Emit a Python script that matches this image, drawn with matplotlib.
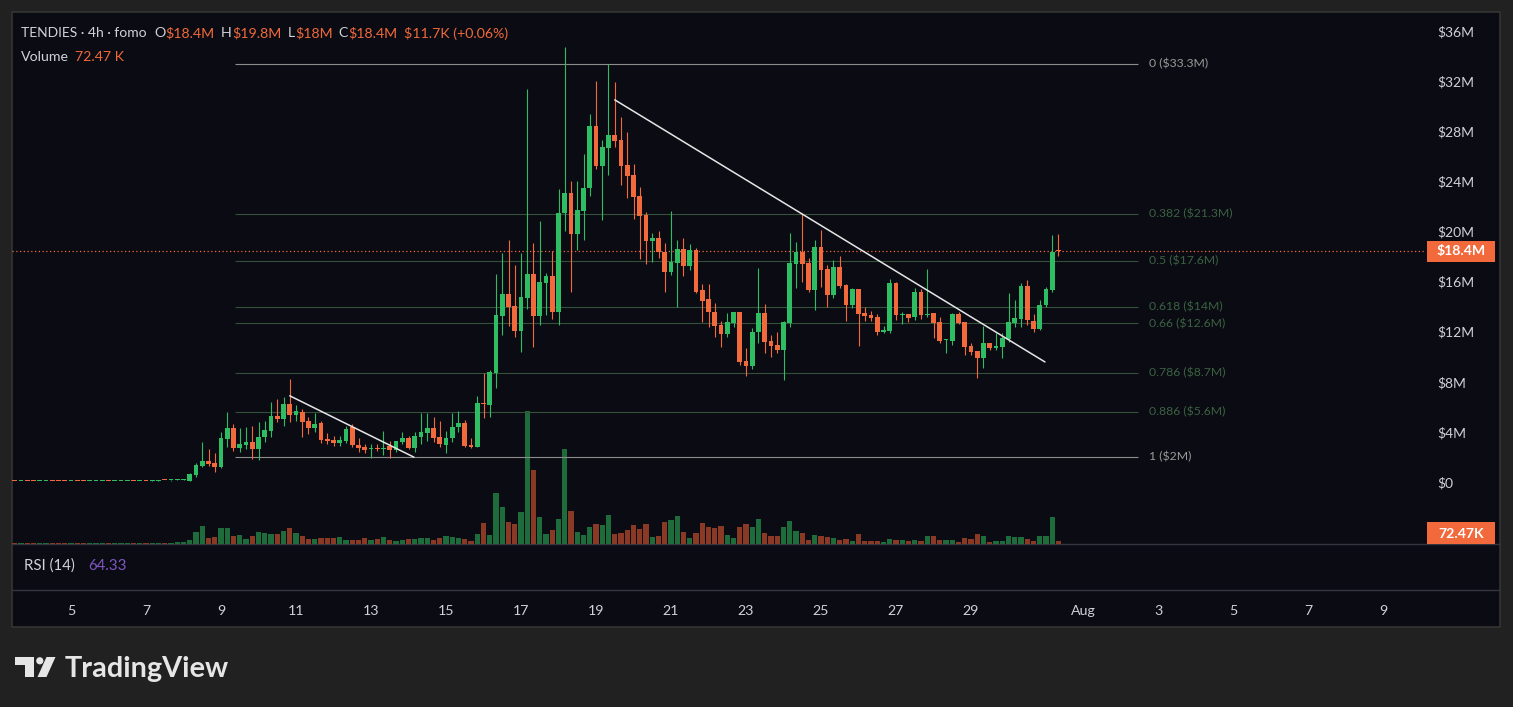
import matplotlib
matplotlib.use("Agg")
import matplotlib.pyplot as plt
import matplotlib.dates as mdates
import matplotlib.transforms as mtransforms
from matplotlib.patches import Rectangle, Polygon, Circle
import numpy as np
import pandas as pd

plt.rcParams['font.family'] = ['Lato', 'DejaVu Sans']

# ---------------- data ----------------
symbol_title = "TENDIES · 4h · fomo"
first_bar = "2024-07-03 12:00"
bar_freq = "4h"

# OHLC in $M (4h candles)
opens = [0.09, 0.06, 0.09, 0.09, 0.06, 0.06, 0.09, 0.09, 0.09, 0.06,
         0.09, 0.09, 0.06, 0.06, 0.06, 0.09, 0.06, 0.06, 0.06, 0.09,
         0.06, 0.09, 0.06, 0.10, 0.15, 0.12, 0.14, 0.17,
         0.10, 0.55, 1.30, 1.70, 1.50, 1.20, 3.40, 4.33, 2.74, 2.98,
         3.22, 2.63, 3.57, 4.07, 5.24, 5.03, 6.22, 5.35, 5.61, 4.89,
         4.33, 4.68, 3.43, 3.35, 3.09, 3.30, 4.37, 2.95, 2.77, 2.60,
         2.65, 2.60, 2.87, 2.55, 3.22, 3.49, 2.74, 3.62, 3.94, 4.31,
         3.62, 2.95, 3.49, 4.37, 4.73, 2.95, 2.82, 6.33, 6.15, 8.72,
         13.25, 15.00, 14.05, 12.08, 14.66, 16.60, 13.25, 15.90, 16.44, 13.59,
         21.45, 23.04, 19.80, 21.65, 23.44, 28.40, 25.24, 26.68, 27.70, 27.30,
         25.30, 24.50, 22.80, 21.30, 19.26, 19.50, 18.38, 16.78, 17.50, 18.57,
         17.26, 18.52, 15.30, 14.58, 13.54, 12.53, 11.81, 12.72, 13.54, 9.68,
         9.28, 11.95, 13.46, 11.25, 10.93, 10.56, 12.66, 17.40, 18.38, 17.45,
         15.32, 18.78, 17.00, 14.92, 17.18, 15.72, 14.13, 15.38, 13.50, 13.30,
         13.14, 12.00, 12.05, 15.90, 13.33, 13.38, 13.14, 15.19, 13.33, 13.46,
         12.80, 11.30, 11.28, 13.41, 12.74, 10.85, 10.45, 9.92, 11.07, 10.72,
         10.80, 11.41, 12.66, 13.01, 15.67, 12.85, 12.18, 14.10, 15.32, 18.41]
highs = [0.11, 0.11, 0.11, 0.11, 0.11, 0.11, 0.11, 0.11, 0.11, 0.11,
         0.11, 0.11, 0.11, 0.11, 0.11, 0.11, 0.11, 0.11, 0.11, 0.11,
         0.11, 0.11, 0.12, 0.17, 0.18, 0.16, 0.20, 0.22,
         0.68, 1.50, 3.20, 2.60, 2.30, 4.00, 5.60, 4.60, 4.30, 4.40,
         4.50, 4.80, 4.90, 6.36, 6.60, 6.80, 8.20, 6.15, 5.80, 5.20,
         5.50, 4.90, 3.90, 3.70, 3.70, 4.50, 4.60, 3.50, 3.00, 3.00,
         3.00, 4.07, 3.30, 3.30, 4.00, 3.70, 4.00, 5.50, 5.50, 5.20,
         4.90, 4.10, 5.50, 5.70, 4.95, 3.50, 6.90, 8.70, 8.90, 16.60,
         18.25, 19.30, 17.30, 18.30, 31.40, 19.10, 20.80, 16.70, 18.40, 23.40,
         34.70, 24.05, 24.00, 26.20, 29.40, 32.00, 27.30, 33.36, 31.90, 29.10,
         27.90, 25.40, 23.57, 21.57, 19.90, 20.00, 19.10, 21.60, 19.30, 19.45,
         19.00, 18.70, 15.80, 15.80, 14.26, 12.85, 13.46, 13.60, 13.60, 10.67,
         12.27, 17.05, 14.20, 11.73, 11.95, 12.87, 19.85, 19.18, 21.45, 17.85,
         19.30, 20.10, 17.30, 17.70, 18.00, 15.80, 15.50, 15.40, 14.00, 13.65,
         13.40, 12.45, 16.18, 16.00, 13.60, 13.38, 15.46, 15.40, 17.00, 13.46,
         13.20, 11.40, 13.50, 13.60, 12.80, 11.07, 10.45, 12.45, 11.07, 11.90,
         11.87, 15.10, 14.50, 15.86, 16.10, 13.40, 14.50, 15.60, 19.70, 19.80]
lows = [0.04, 0.04, 0.04, 0.04, 0.04, 0.04, 0.04, 0.04, 0.04, 0.04,
        0.04, 0.04, 0.04, 0.04, 0.04, 0.04, 0.04, 0.04, 0.04, 0.04,
        0.04, 0.04, 0.04, 0.08, 0.13, 0.10, 0.12, 0.15,
        0.08, 0.40, 1.20, 1.30, 0.80, 1.10, 2.80, 2.50, 2.40, 2.60,
        1.84, 1.76, 3.20, 3.60, 4.76, 4.50, 4.80, 4.90, 3.60, 3.83,
        4.00, 3.09, 3.00, 2.90, 2.90, 3.10, 2.80, 2.40, 2.30, 1.90,
        2.50, 2.15, 1.90, 2.40, 3.00, 2.60, 2.40, 3.00, 3.30, 3.20,
        2.80, 2.30, 3.20, 4.00, 2.80, 2.70, 2.80, 5.10, 5.20, 7.50,
        11.70, 12.45, 11.60, 10.40, 13.80, 10.80, 12.50, 13.33, 13.00, 12.50,
        20.00, 15.20, 18.50, 19.30, 22.80, 25.00, 20.90, 24.50, 26.70, 23.70,
        22.70, 21.00, 17.80, 17.37, 17.58, 17.90, 15.20, 16.50, 14.00, 16.44,
        16.90, 15.10, 12.80, 12.40, 11.55, 10.80, 11.60, 12.40, 9.34, 8.48,
        9.00, 11.07, 10.30, 10.00, 10.27, 8.14, 12.40, 15.46, 16.00, 15.19,
        13.73, 15.60, 14.00, 14.70, 15.50, 12.87, 13.90, 10.88, 12.87, 12.87,
        11.70, 11.90, 11.90, 12.90, 12.60, 12.80, 12.90, 13.00, 13.20, 11.47,
        11.07, 10.27, 10.90, 12.60, 10.13, 10.13, 8.27, 9.12, 10.50, 10.50,
        9.92, 11.20, 12.35, 12.40, 12.50, 12.00, 12.10, 13.94, 15.20, 18.00]
closes = [0.06, 0.09, 0.06, 0.06, 0.09, 0.09, 0.06, 0.06, 0.06, 0.09,
          0.06, 0.06, 0.09, 0.09, 0.09, 0.06, 0.09, 0.09, 0.09, 0.06,
          0.09, 0.06, 0.10, 0.15, 0.12, 0.14, 0.18, 0.20,
          0.62, 1.36, 1.68, 1.45, 1.20, 3.50, 4.30, 2.69, 3.03, 3.22,
          2.66, 3.62, 4.15, 5.24, 5.03, 6.22, 5.35, 5.69, 4.81, 4.33,
          4.63, 3.35, 3.27, 3.09, 3.35, 4.23, 2.93, 2.69, 2.55, 2.69,
          2.60, 2.75, 2.55, 3.27, 3.54, 2.69, 3.67, 4.01, 4.31, 3.49,
          3.03, 3.49, 4.41, 4.73, 2.87, 2.77, 6.33, 6.25, 8.75, 13.33,
          15.00, 14.00, 12.08, 14.76, 16.60, 13.25, 15.94, 16.44, 13.59, 21.45,
          23.04, 19.80, 21.70, 23.44, 28.40, 25.24, 26.76, 27.70, 27.24, 25.24,
          24.45, 22.77, 21.25, 19.26, 19.45, 18.33, 16.78, 17.58, 18.57, 17.26,
          18.52, 15.19, 14.47, 13.54, 12.47, 11.81, 12.74, 13.54, 9.55, 9.28,
          11.95, 13.46, 11.20, 10.88, 10.56, 12.74, 17.45, 18.38, 17.40, 15.32,
          18.78, 16.92, 14.92, 17.18, 15.64, 14.13, 15.38, 13.41, 13.27, 13.06,
          11.95, 12.10, 15.90, 13.33, 13.40, 13.11, 15.19, 13.33, 13.40, 12.70,
          11.28, 11.38, 13.41, 12.72, 10.80, 10.40, 9.92, 11.07, 10.72, 10.85,
          11.47, 12.74, 13.06, 15.67, 12.93, 12.18, 14.13, 15.40, 18.39, 18.40]
# volume in thousands
volumes_k = [24, 24, 22, 24, 24, 22, 24, 24, 24, 22,
             24, 24, 22, 24, 24, 24, 22, 24, 24, 24,
             24, 24, 24, 31, 31, 31, 48, 48,
             89, 288, 432, 144, 175, 384, 384, 192, 223, 120,
             192, 288, 264, 240, 240, 312, 384, 264, 192, 120,
             120, 144, 144, 144, 168, 96, 96, 96, 137, 96,
             120, 168, 96, 72, 96, 120, 120, 144, 144, 96,
             144, 192, 168, 144, 120, 72, 240, 504, 216, 1224,
             888, 528, 480, 768, 3192, 1776, 648, 240, 336, 600,
             2280, 792, 288, 216, 408, 480, 456, 696, 240, 264,
             336, 456, 360, 480, 168, 192, 528, 576, 672, 288,
             144, 264, 504, 408, 384, 432, 216, 144, 408, 480,
             408, 600, 264, 192, 192, 408, 552, 312, 264, 96,
             216, 192, 168, 144, 96, 120, 72, 240, 72, 72,
             72, 48, 120, 96, 96, 72, 96, 72, 192, 192,
             96, 96, 96, 48, 144, 120, 240, 192, 48, 72,
             72, 192, 168, 168, 120, 72, 192, 192, 648, 72.47]

price_ticks = [0, 4, 8, 12, 16, 20, 24, 28, 32, 36]
price_tick_labels = ["$0", "$4M", "$8M", "$12M", "$16M", "$20M", "$24M", "$28M", "$32M", "$36M"]
date_ticks = ["2024-07-05", "2024-07-07", "2024-07-09", "2024-07-11", "2024-07-13",
              "2024-07-15", "2024-07-17", "2024-07-19", "2024-07-21", "2024-07-23",
              "2024-07-25", "2024-07-27", "2024-07-29", "2024-08-01", "2024-08-03",
              "2024-08-05", "2024-08-07", "2024-08-09"]
date_tick_labels = ["5", "7", "9", "11", "13", "15", "17", "19", "21", "23",
                    "25", "27", "29", "Aug", "3", "5", "7", "9"]

fib_levels = [0, 0.382, 0.5, 0.618, 0.66, 0.786, 0.886, 1]
fib_texts = ["0 ($33.3M)", "0.382 ($21.3M)", "0.5 ($17.6M)", "0.618 ($14M)",
             "0.66 ($12.6M)", "0.786 ($8.7M)", "0.886 ($5.6M)", "1 ($2M)"]
fib_high, fib_low = 33.35, 2.0
fib_start, fib_end = "2024-07-09 09:00", "2024-08-02 11:00"

trend_lines = [(("2024-07-10 20:00", 6.88), ("2024-07-14 03:30", 1.98)),
               (("2024-07-19 12:00", 30.5), ("2024-07-30 23:20", 9.58))]

header_fields = [("O", "$18.4M"), ("H", "$19.8M"), ("L", "$18M"), ("C", "$18.4M")]
header_chg = "$11.7K (+0.06%)"
volume_text = "72.47 K"
rsi_value = "64.33"

# ---------------- style / layout ----------------
W, H = 1513, 707
BG_OUT = "#212121"
BG_IN = "#0b0b13"
GREEN = "#2ebd62"
RED = "#f2693c"
VGREEN = "#1e6b3b"
VRED = "#8a3a24"
TXT = "#cfd2d8"
ORANGE = "#f0693a"

PX_PER_DAY = 37.5
X_REF_PX = 71.0          # pixel x of 2024-07-05 00:00
Y0_PX = 482.0            # pixel y of price 0
PX_PER_M = 12.53
PANE_L, PANE_R, PANE_T, PANE_B = 12, 1500, 12, 544
RSI_B = 590
PANEL_B = 627

fig = plt.figure(figsize=(W / 100, H / 100), dpi=100, facecolor=BG_OUT)
renderer = fig.canvas.get_renderer()

def frect(l, t, r, b):
    return [l / W, 1 - b / H, (r - l) / W, (b - t) / H]

# decoration axes in pixel units
deco = fig.add_axes([0, 0, 1, 1], zorder=0)
deco.set_xlim(0, W)
deco.set_ylim(H, 0)
deco.axis("off")
deco.add_patch(Rectangle((PANE_L, PANE_T), PANE_R - PANE_L, PANEL_B - PANE_T,
                         facecolor=BG_IN, edgecolor="#343434", linewidth=1.2))
deco.plot([PANE_L, PANE_R], [PANE_B, PANE_B], color="#33363f", lw=1.0)
deco.plot([PANE_L, PANE_R], [RSI_B, RSI_B], color="#33363f", lw=1.0)

# logo
LOGO = "#e6e6e6"
deco.add_patch(Polygon([(15, 657), (33.5, 657), (33.5, 677), (24.5, 677), (24.5, 664.5), (15, 664.5)],
                       closed=True, facecolor=LOGO, edgecolor="none"))
deco.add_patch(Circle((39.8, 660.8), 3.6, facecolor=LOGO, edgecolor="none"))
deco.add_patch(Polygon([(37.5, 677), (46.5, 677), (55.5, 657), (46.5, 657)],
                       closed=True, facecolor=LOGO, edgecolor="none"))
deco.text(65, 677, "TradingView", fontsize=20.8, fontweight="bold", color=LOGO,
          ha="left", va="baseline")

# time -> x
t = pd.date_range(first_bar, periods=len(opens), freq=bar_freq)
x = mdates.date2num(t)
d_ref = mdates.date2num(pd.Timestamp("2024-07-05"))
xlim = (d_ref + (PANE_L - X_REF_PX) / PX_PER_DAY, d_ref + (PANE_R - X_REF_PX) / PX_PER_DAY)
ylim = ((Y0_PX - PANE_B) / PX_PER_M, (Y0_PX - PANE_T) / PX_PER_M)

# volume axes
axv = fig.add_axes(frect(PANE_L, PANE_T, PANE_R, PANE_B), zorder=1)
axv.patch.set_alpha(0)
axv.set_xlim(*xlim)
VOL_K_PER_PX = 24.0
axv.set_ylim(0, (PANE_B - PANE_T) * VOL_K_PER_PX)
axv.axis("off")

o, h, l, c = map(np.array, (opens, highs, lows, closes))
v = np.array(volumes_k)
up = c >= o
ccol = np.where(up, GREEN, RED)
vcol = np.where(up, VGREEN, VRED)
axv.bar(x, v, width=5.2 / PX_PER_DAY, color=vcol, linewidth=0)

# volume label box
axv.add_patch(Rectangle((1427, 522), 68, 22, transform=deco.transData,
                        facecolor=RED, edgecolor="none", zorder=5))
axv.text(1461, 533.5, "72.47K", transform=deco.transData, color="white",
         fontsize=10.2, fontweight="bold", ha="center", va="center", zorder=6)

# price axes
ax = fig.add_axes(frect(PANE_L, PANE_T, PANE_R, PANE_B), zorder=2)
ax.patch.set_alpha(0)
ax.set_xlim(*xlim)
ax.set_ylim(*ylim)
for s in ax.spines.values():
    s.set_visible(False)
ax.set_xticks([])
ax.yaxis.tick_right()
ax.set_yticks(price_ticks)
ax.set_yticklabels(price_tick_labels)
ax.tick_params(axis="y", length=0, pad=-(PANE_R - 1437) * 0.72, labelsize=10,
               labelcolor=TXT)

# fib retracement
f0, f1 = mdates.date2num(pd.Timestamp(fib_start)), mdates.date2num(pd.Timestamp(fib_end))
for lvl, txt in zip(fib_levels, fib_texts):
    p = fib_high - lvl * (fib_high - fib_low)
    edge = lvl in (0, 1)
    lc = "#8c8c8c" if edge else "#34523a"
    tc = "#9a9a9a" if edge else "#3a6242"
    ax.hlines(p, f0, f1, colors=lc, linewidth=0.8, zorder=1)
    ax.annotate(txt, xy=(f1, p), xytext=(7.5, 0), textcoords="offset points",
                color=tc, fontsize=8.8, va="center", ha="left")

# current price line
last = c[-1]
ax.plot([xlim[0], d_ref + (1425 - X_REF_PX) / PX_PER_DAY], [last, last],
        color=RED, lw=0.9, ls=(0, (1, 2)), zorder=2)

# candles
ax.vlines(x, l, h, colors=ccol, linewidth=0.8, zorder=3)
body_lo = np.minimum(o, c)
body_h = np.maximum(np.abs(c - o), 0.09)
ax.bar(x, body_h, bottom=body_lo, width=4.8 / PX_PER_DAY, color=ccol, linewidth=0, zorder=4)

# trend lines
for (a, b) in trend_lines:
    ax.plot([mdates.date2num(pd.Timestamp(a[0])), mdates.date2num(pd.Timestamp(b[0]))],
            [a[1], b[1]], color="#e6e6e6", lw=1.1, zorder=5, solid_capstyle="round")

# last price box
bt = mtransforms.blended_transform_factory(deco.transData, ax.transData)
hb = 10.5 / PX_PER_M
ax.add_patch(Rectangle((1427, last - hb), 68, 2 * hb, transform=bt,
                       facecolor=RED, edgecolor="none", zorder=6, clip_on=False))
ax.text(1461, last, "$18.4M", transform=bt, color="white", fontsize=10.2,
        fontweight="bold", ha="center", va="center", zorder=7)

# RSI pane with time axis labels
axr = fig.add_axes(frect(PANE_L, PANE_B, PANE_R, RSI_B), zorder=1)
axr.patch.set_alpha(0)
axr.set_xlim(*xlim)
axr.set_yticks([])
for s in axr.spines.values():
    s.set_visible(False)
axr.set_xticks(mdates.date2num(pd.to_datetime(date_ticks)))
axr.set_xticklabels(date_tick_labels)
axr.tick_params(axis="x", length=0, pad=10.5, labelsize=10.2, labelcolor=TXT)

# header texts (placed at reference positions, never overlapping)
def ftxt(px, py, s, col, size=10.2, **kw):
    tx = fig.text(px / W, 1 - py / H, s, color=col, fontsize=size, ha="left", va="center", **kw)
    return tx.get_window_extent(renderer).x1

end = ftxt(21, 33, symbol_title, TXT, size=10.0)
for (letter, val), ref_x in zip(header_fields, [154, 217, 278, 326]):
    start = max(ref_x, end + 6)
    end = ftxt(start, 33, letter, TXT)
    end = ftxt(end + 0.5, 33, val, ORANGE)
ftxt(max(387, end + 6), 33, header_chg, ORANGE)
ftxt(21, 57, "Volume", TXT)
ftxt(75, 57, volume_text, ORANGE)
ftxt(24, 566, "RSI (14)", TXT, size=10.8)
ftxt(88, 566, rsi_value, "#7e57c2", size=10.8)

fig.savefig("out.png", dpi=100, facecolor=BG_OUT)
